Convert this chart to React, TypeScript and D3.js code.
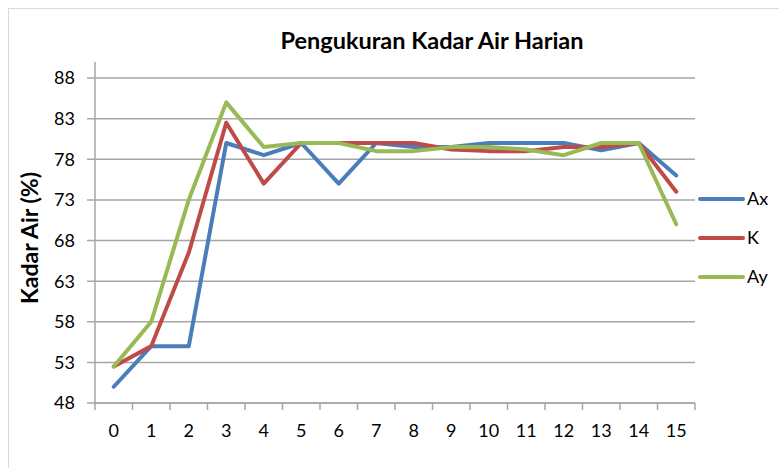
import React from "react";
import * as d3 from "d3";

const categories = ["0","1","2","3","4","5","6","7","8","9","10","11","12","13","14","15"];
const ax = [50, 55, 55, 80, 78.5, 80, 75, 80, 79.5, 79.5, 80, 80, 80, 79.1, 80, 76];
const k = [52.5, 55, 66.5, 82.5, 75, 80, 80, 80, 80, 79.2, 79, 79, 79.5, 79.5, 80, 74];
const ay = [52.5, 58, 73, 85, 79.5, 80, 80, 79, 79, 79.5, 79.5, 79.2, 78.5, 80, 80, 70];
const yTicks = [48, 53, 58, 63, 68, 73, 78, 83, 88];
const seriesNames = ["Ax", "K", "Ay"];
const colors = ["#4a7ebb", "#be4b48", "#98b954"];

const FONT = "Lato, 'Open Sans', sans-serif";

export default function App() {
  const left = 95, right = 695, top = 78, bottom = 403;
  const x = d3.scaleBand<string>().domain(categories).range([left, right]);
  const y = d3.scaleLinear().domain([48, 88]).range([bottom, top]);
  const line = d3.line<number>()
    .x((_, i) => (x(categories[i]) as number) + x.bandwidth() / 2)
    .y((d) => y(d));
  const series = [ax, k, ay];
  const tickXs = categories.map((c) => x(c) as number).concat([right]);

  return (
    <svg width={779} height={468} style={{ position: "absolute", left: 0, top: 0, background: "#fff" }} fontFamily={FONT}>
      <rect x={8.5} y={8.5} width={800} height={500} fill="#fff" stroke="#d9d9d9" strokeWidth={1} />
      <text x={432} y={49} textAnchor="middle" fontSize={23.5} fontWeight="bold" fill="#000">Pengukuran Kadar Air Harian</text>
      {yTicks.map((t) => (
        <g key={t}>
          <line x1={left - 8} x2={right} y1={y(t)} y2={y(t)} stroke="#a6a6a6" strokeWidth={1.5} />
          <text x={75} y={y(t)} dy="0.36em" textAnchor="end" fontSize={18} fill="#000">{t}</text>
        </g>
      ))}
      <line x1={left} x2={left} y1={top - 16} y2={bottom} stroke="#a6a6a6" strokeWidth={1.5} />
      <line x1={left} x2={right} y1={bottom} y2={bottom} stroke="#a6a6a6" strokeWidth={1.5} />
      {tickXs.map((tx, i) => (
        <line key={i} x1={tx} x2={tx} y1={bottom} y2={bottom + 7} stroke="#a6a6a6" strokeWidth={1.5} />
      ))}
      {categories.map((c) => (
        <text key={c} x={(x(c) as number) + x.bandwidth() / 2} y={431} dy="0.36em" textAnchor="middle" fontSize={18} fill="#000">{c}</text>
      ))}
      <text transform={`translate(38,238) rotate(-90)`} textAnchor="middle" fontSize={23} fontWeight="bold" fill="#000">Kadar Air (%)</text>
      {series.map((s, i) => (
        <path key={i} d={line(s) as string} fill="none" stroke={colors[i]} strokeWidth={4} strokeLinejoin="round" strokeLinecap="round" />
      ))}
      {seriesNames.map((n, i) => (
        <g key={n}>
          <line x1={700} x2={743} y1={199 + i * 39} y2={199 + i * 39} stroke={colors[i]} strokeWidth={4} strokeLinecap="round" />
          <text x={747} y={199 + i * 39} dy="0.36em" fontSize={18} fill="#000">{n}</text>
        </g>
      ))}
    </svg>
  );
}
